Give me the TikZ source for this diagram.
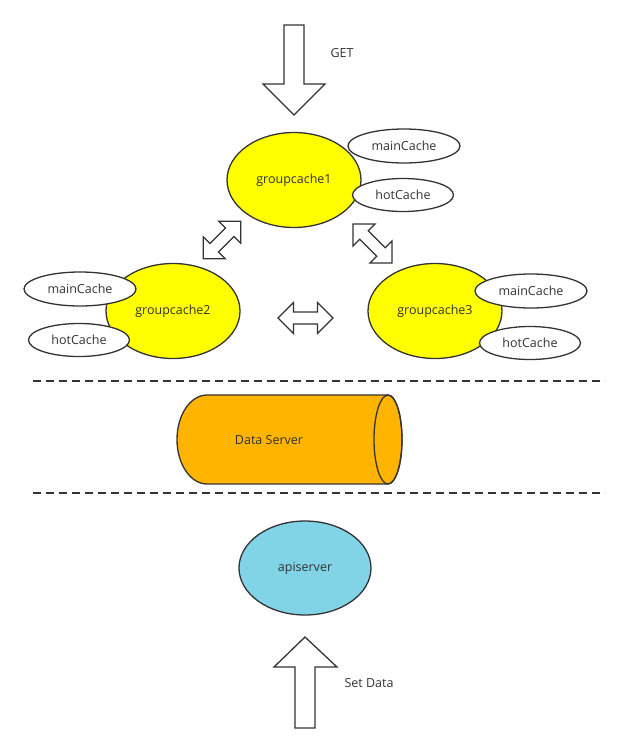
\documentclass[tikz,border=0pt]{standalone}
\usepackage{fontspec}
\setmainfont{Open Sans}
\usetikzlibrary{shapes.geometric}
\definecolor{ink}{HTML}{333333}
\definecolor{gcyellow}{HTML}{FFFF00}
\definecolor{dsorange}{HTML}{FFB400}
\definecolor{apiblue}{HTML}{80D4E6}
\tikzset{
  lbl/.style={text=ink, font=\fontsize{12.5}{15}\selectfont, inner sep=0pt},
  gc/.style={ellipse, draw=ink, line width=1.3pt, fill=gcyellow, lbl,
    minimum width=134pt, minimum height=95pt},
  maincache/.style={ellipse, draw=ink, line width=1.3pt, fill=white, lbl,
    minimum width=112pt, minimum height=34pt},
  hotcache/.style={ellipse, draw=ink, line width=1.3pt, fill=white, lbl,
    minimum width=101pt, minimum height=33pt},
  blockarrow/.style={draw=ink, line width=1.3pt, fill=white, line join=miter},
  layersep/.style={draw=ink, line width=2pt, dash pattern=on 8pt off 5pt},
}
\begin{document}
\begin{tikzpicture}[x=1pt, y=-1pt]
\useasboundingbox (0,0) rectangle (631,753);
\def\headw{15.5}
\def\shaftw{6}
% request from the top
\draw[blockarrow] (284,25) -- (304,25) -- (304,84) -- (325,84) -- (294,115)
  -- (263,84) -- (284,84) -- cycle;
\node[lbl] (get) at (342,53) {GET};
% the three peers
\node[gc] (gc1) at (294,180) {groupcache1};
\node[gc] (gc2) at (173,311) {groupcache2};
\node[gc] (gc3) at (435,311) {groupcache3};
\node[maincache] (main1) at (404,146) {mainCache};
\node[hotcache] (hot1) at (403,195) {hotCache};
\node[maincache] (main2) at (80,289) {mainCache};
\node[hotcache] (hot2) at (79,340) {hotCache};
\node[maincache] (main3) at (531,291) {mainCache};
\node[hotcache] (hot3) at (530,343) {hotCache};
\foreach \cx/\cy/\ang/\len in {222/240/45/53, 372.5/243.5/-45/55, 305.5/318/0/55}{
  \draw[blockarrow, shift={(\cx,\cy)}, rotate=\ang]
    (-\len/2,0) -- (-\len/2+\headw,\headw) -- (-\len/2+\headw,\shaftw)
    -- (\len/2-\headw,\shaftw) -- (\len/2-\headw,\headw) -- (\len/2,0)
    -- (\len/2-\headw,-\headw) -- (\len/2-\headw,-\shaftw)
    -- (-\len/2+\headw,-\shaftw) -- (-\len/2+\headw,-\headw) -- cycle;
}
\draw[layersep] (33,381) -- (605,381);
% data server
\draw[line width=1.3pt, draw=ink, fill=dsorange] (388,395) -- (207,395)
  arc[start angle=90, end angle=270, x radius=30pt, y radius=44.5pt]
  -- (388,484) arc[start angle=-90, end angle=90, x radius=14pt, y radius=44.5pt]
  -- cycle;
\draw[line width=1.3pt, draw=ink] (388,439.5) ellipse [x radius=14pt, y radius=44.5pt];
\node[lbl] (ds) at (269,440) {Data Server};
\draw[layersep] (33,493) -- (605,493);
% api server and writes
\node[ellipse, draw=ink, line width=1.3pt, fill=apiblue, lbl,
  minimum width=132pt, minimum height=94pt] (api) at (305,568) {apiserver};
\draw[blockarrow] (295,728) -- (295,667) -- (274,667) -- (305,637) -- (337,667)
  -- (315,667) -- (315,728) -- cycle;
\node[lbl] (set) at (369,683) {Set Data};
\end{tikzpicture}
\end{document}
